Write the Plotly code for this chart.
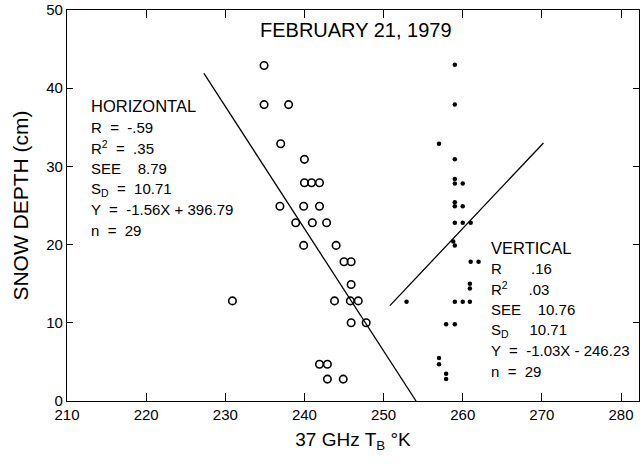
import plotly.graph_objects as go

# ---- data ----
horiz_x = [234.9, 238.0, 234.9, 237.0, 240.0, 240.0, 240.9, 241.9,
           236.9, 239.9, 241.9, 238.9, 241.0, 242.8, 239.9, 244.0,
           245.0, 245.9, 245.9, 230.9, 243.8, 245.8, 246.8, 245.9,
           247.8, 241.9, 242.9, 242.9, 244.9]
horiz_y = [42.9, 37.9, 37.9, 32.9, 30.9, 27.9, 27.9, 27.9,
           24.9, 24.9, 24.9, 22.8, 22.8, 22.8, 19.9, 19.9,
           17.8, 17.8, 14.9, 12.8, 12.8, 12.8, 12.8, 10.0,
           10.0, 4.7, 4.7, 2.8, 2.8]

vert_x = [259.0, 259.0, 257.0, 259.0, 259.0, 259.0, 260.0, 259.0,
          259.0, 260.0, 259.0, 260.0, 261.0, 258.8, 259.0, 261.0,
          262.0, 260.9, 260.9, 252.9, 259.0, 260.0, 260.9, 257.9,
          259.0, 257.0, 257.0, 257.9, 257.9]
vert_y = [43.0, 37.9, 32.9, 30.9, 28.4, 27.8, 27.8, 25.4,
          24.9, 24.9, 22.8, 22.8, 22.8, 20.4, 19.9, 17.8,
          17.8, 15.0, 14.4, 12.7, 12.7, 12.7, 12.7, 9.8,
          9.8, 5.5, 4.7, 3.5, 2.8]

hline_x = [227.3, 254.1]
hline_y = [41.9, 0.0]
vline_x = [250.8, 270.2]
vline_y = [12.2, 33.0]

x_ticks = [210, 220, 230, 240, 250, 260, 270, 280]
y_ticks = [0, 10, 20, 30, 40, 50]

title_text = "FEBRUARY 21, 1979"
x_title = "37 GHz T<sub>B</sub> °K"
y_title = "SNOW DEPTH (cm)"

horiz_head = "HORIZONTAL"
horiz_lines = ["R  =  -.59", "R<sup>2</sup>  =  .35", "SEE    8.79",
               "S<sub>D</sub>  =  10.71", "Y  =  -1.56X + 396.79", "n  =  29"]
vert_head = "VERTICAL"
vert_lines = ["R       .16", "R<sup>2</sup>     .03", "SEE    10.76",
              "S<sub>D</sub>     10.71", "Y  =  -1.03X - 246.23", "n  =  29"]

FONT = "Liberation Sans, Arial, Helvetica, sans-serif"

fig = go.Figure()
fig.add_trace(go.Scatter(x=hline_x, y=hline_y, mode="lines",
                         line=dict(color="black", width=1.3), showlegend=False))
fig.add_trace(go.Scatter(x=vline_x, y=vline_y, mode="lines",
                         line=dict(color="black", width=1.3), showlegend=False))
fig.add_trace(go.Scatter(x=horiz_x, y=horiz_y, mode="markers",
                         marker=dict(symbol="circle-open", size=7.5, color="black",
                                     line=dict(width=1.6, color="black")),
                         showlegend=False))
fig.add_trace(go.Scatter(x=vert_x, y=vert_y, mode="markers",
                         marker=dict(symbol="circle", size=4.5, color="black"),
                         showlegend=False))

L, R, T, B = 67, 1, 10, 63
W, H = 640, 464
PW, PH = W - L - R, H - T - B


def px(xp):
    return (xp - L) / PW


def py(yp):
    return (H - B - yp) / PH


ann = []
ann.append(dict(x=px(356), y=py(30), xref="paper", yref="paper", text=title_text,
                showarrow=False, font=dict(size=20, color="black", family=FONT),
                xanchor="center", yanchor="middle"))

step = 20.7
ann.append(dict(x=px(89), y=py(106), xref="paper", yref="paper", text=horiz_head,
                showarrow=False, font=dict(size=16.5, color="black", family=FONT),
                xanchor="left", yanchor="middle"))
for i, t in enumerate(horiz_lines):
    ann.append(dict(x=px(89), y=py(127 + i * step), xref="paper", yref="paper", text=t,
                    showarrow=False, font=dict(size=15, color="black", family=FONT),
                    xanchor="left", yanchor="middle"))
ann.append(dict(x=px(489), y=py(248), xref="paper", yref="paper", text=vert_head,
                showarrow=False, font=dict(size=16.5, color="black", family=FONT),
                xanchor="left", yanchor="middle"))
for i, t in enumerate(vert_lines):
    ann.append(dict(x=px(489), y=py(268 + i * step), xref="paper", yref="paper", text=t,
                    showarrow=False, font=dict(size=15, color="black", family=FONT),
                    xanchor="left", yanchor="middle"))

fig.update_layout(
    width=W, height=H, autosize=False,
    margin=dict(l=L, r=R, t=T, b=B, pad=0, autoexpand=False),
    paper_bgcolor="white", plot_bgcolor="white",
    font=dict(family=FONT, color="black", size=15),
    annotations=ann,
    xaxis=dict(range=[210, 282.27], tickvals=x_ticks, ticks="inside", ticklen=8,
               tickwidth=1, tickcolor="black", showgrid=False, zeroline=False,
               showline=True, linecolor="black", linewidth=1.3, mirror="allticks",
               automargin=False, tickfont=dict(size=15, family=FONT),
               title=dict(text=x_title, font=dict(size=19, family=FONT), standoff=10)),
    yaxis=dict(range=[0, 50], tickvals=y_ticks, ticks="inside", ticklen=6,
               tickwidth=1, tickcolor="black", showgrid=False, zeroline=False,
               showline=True, linecolor="black", linewidth=1.3, mirror="allticks",
               automargin=False, tickfont=dict(size=15, family=FONT),
               title=dict(text=y_title, font=dict(size=21, family=FONT), standoff=11)),
)

fig.write_html("out.html", config={"displayModeBar": False},
               post_script="document.body.style.margin='0';"
                           "document.body.style.overflow='hidden';")
